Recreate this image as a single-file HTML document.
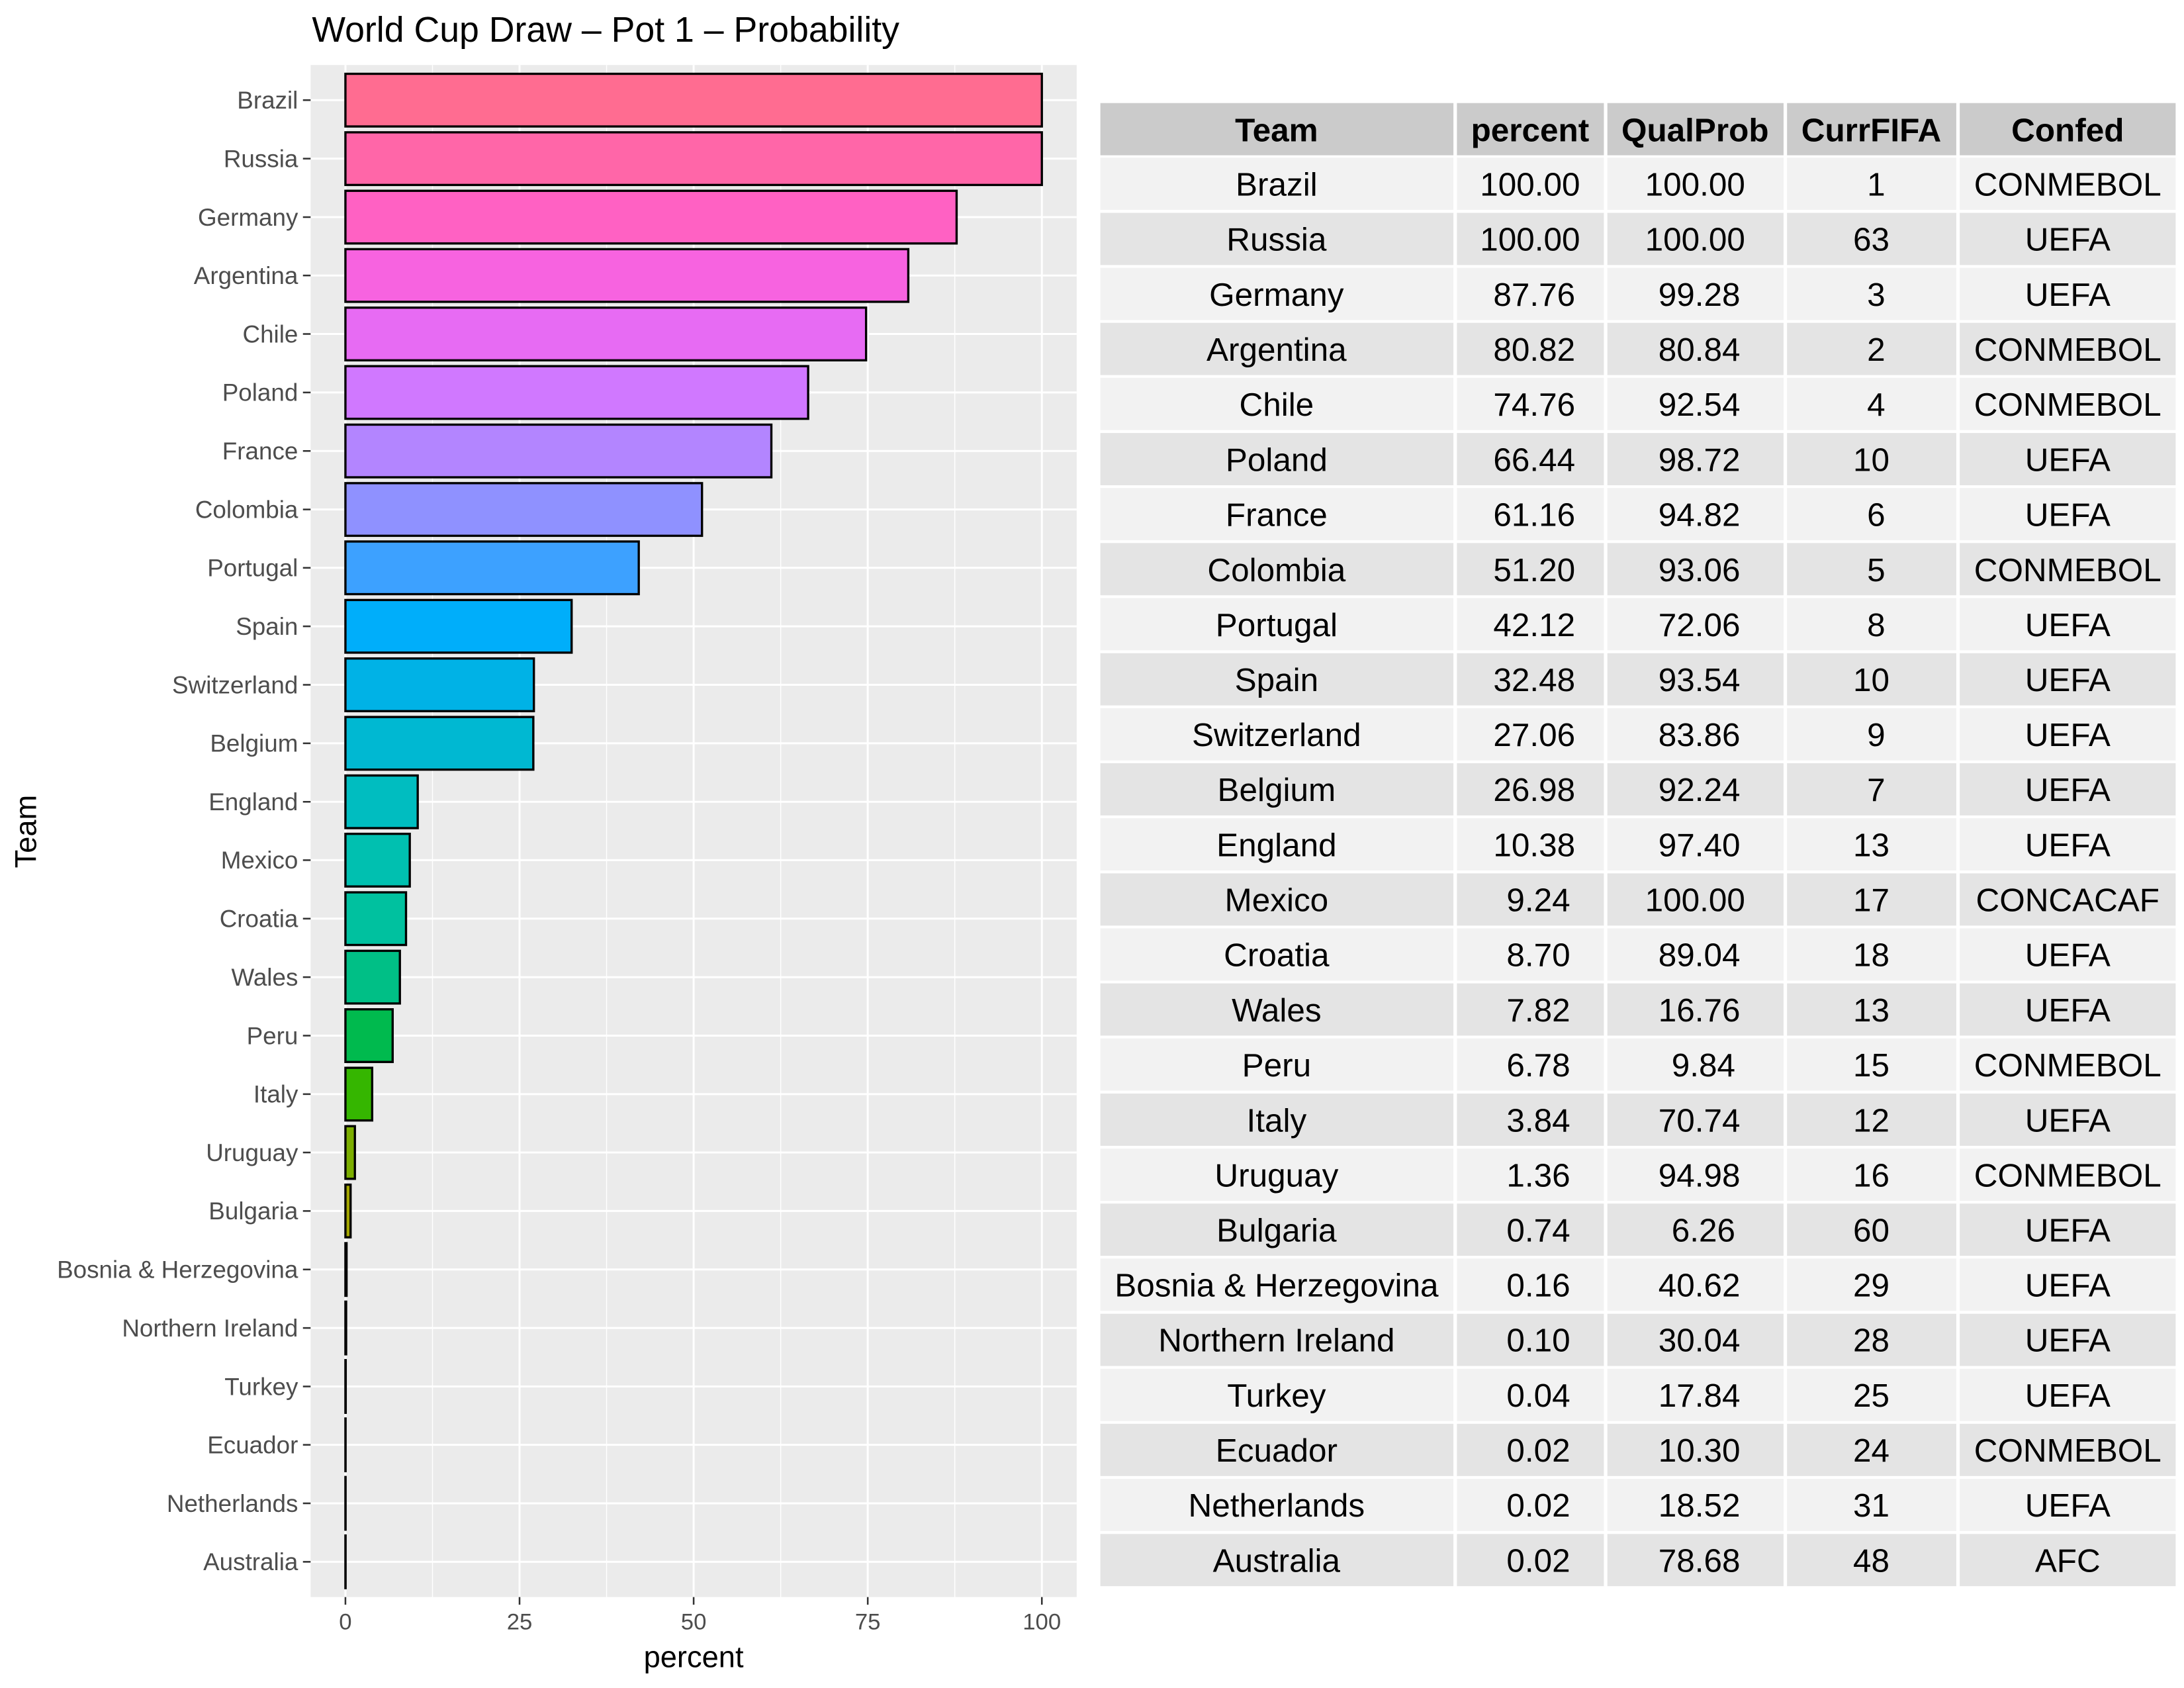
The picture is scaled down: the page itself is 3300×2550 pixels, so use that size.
<!DOCTYPE html>
<html><head><meta charset="utf-8"><style>html,body{margin:0;padding:0;background:#fff}svg{display:block}</style></head>
<body>
<svg xmlns="http://www.w3.org/2000/svg" width="3300" height="2550" viewBox="0 0 1568 1212" preserveAspectRatio="none" font-family="Liberation Sans, Arial, sans-serif">
<rect width="1568" height="1212" fill="#fff"/>
<text x="224" y="30" font-size="25.5" fill="#000">World Cup Draw – Pot 1 – Probability</text>
<!-- panel -->
<rect x="223" y="46.7" width="550" height="1100" fill="#EBEBEB"/>
<g stroke="#fff" stroke-width="0.7">
<line x1="310.5" y1="46.7" x2="310.5" y2="1146.7"/><line x1="435.5" y1="46.7" x2="435.5" y2="1146.7"/><line x1="560.5" y1="46.7" x2="560.5" y2="1146.7"/><line x1="685.5" y1="46.7" x2="685.5" y2="1146.7"/>
</g>
<g stroke="#fff" stroke-width="1.4">
<line x1="248" y1="46.7" x2="248" y2="1146.7"/><line x1="373" y1="46.7" x2="373" y2="1146.7"/><line x1="498" y1="46.7" x2="498" y2="1146.7"/><line x1="623" y1="46.7" x2="623" y2="1146.7"/><line x1="748" y1="46.7" x2="748" y2="1146.7"/>
<line x1="223" y1="71.9" x2="773" y2="71.9"/><line x1="223" y1="113.9" x2="773" y2="113.9"/><line x1="223" y1="155.9" x2="773" y2="155.9"/><line x1="223" y1="197.8" x2="773" y2="197.8"/><line x1="223" y1="239.8" x2="773" y2="239.8"/><line x1="223" y1="281.8" x2="773" y2="281.8"/><line x1="223" y1="323.8" x2="773" y2="323.8"/><line x1="223" y1="365.8" x2="773" y2="365.8"/><line x1="223" y1="407.7" x2="773" y2="407.7"/><line x1="223" y1="449.7" x2="773" y2="449.7"/><line x1="223" y1="491.7" x2="773" y2="491.7"/><line x1="223" y1="533.7" x2="773" y2="533.7"/><line x1="223" y1="575.7" x2="773" y2="575.7"/><line x1="223" y1="617.6" x2="773" y2="617.6"/><line x1="223" y1="659.6" x2="773" y2="659.6"/><line x1="223" y1="701.6" x2="773" y2="701.6"/><line x1="223" y1="743.6" x2="773" y2="743.6"/><line x1="223" y1="785.6" x2="773" y2="785.6"/><line x1="223" y1="827.5" x2="773" y2="827.5"/><line x1="223" y1="869.5" x2="773" y2="869.5"/><line x1="223" y1="911.5" x2="773" y2="911.5"/><line x1="223" y1="953.5" x2="773" y2="953.5"/><line x1="223" y1="995.5" x2="773" y2="995.5"/><line x1="223" y1="1037.4" x2="773" y2="1037.4"/><line x1="223" y1="1079.4" x2="773" y2="1079.4"/><line x1="223" y1="1121.4" x2="773" y2="1121.4"/>
</g>
<!-- bars -->
<g stroke="#000" stroke-width="1.6">
<rect x="248" y="53" width="500" height="37.8" fill="#FF6C91"/>
<rect x="248" y="95" width="500" height="37.8" fill="#FF66A8"/>
<rect x="248" y="137" width="438.8" height="37.8" fill="#FF61C3"/>
<rect x="248" y="178.9" width="404.1" height="37.8" fill="#F763E0"/>
<rect x="248" y="220.9" width="373.8" height="37.8" fill="#E76BF3"/>
<rect x="248" y="262.9" width="332.2" height="37.8" fill="#D078FF"/>
<rect x="248" y="304.9" width="305.8" height="37.8" fill="#B385FF"/>
<rect x="248" y="346.9" width="256" height="37.8" fill="#8F91FF"/>
<rect x="248" y="388.8" width="210.6" height="37.8" fill="#3DA1FF"/>
<rect x="248" y="430.8" width="162.4" height="37.8" fill="#00AEFA"/>
<rect x="248" y="472.8" width="135.3" height="37.8" fill="#00B2E6"/>
<rect x="248" y="514.8" width="134.9" height="37.8" fill="#00B8D2"/>
<rect x="248" y="556.8" width="51.9" height="37.8" fill="#00BDC0"/>
<rect x="248" y="598.7" width="46.2" height="37.8" fill="#00C0B0"/>
<rect x="248" y="640.7" width="43.5" height="37.8" fill="#00C19F"/>
<rect x="248" y="682.7" width="39.1" height="37.8" fill="#00BF86"/>
<rect x="248" y="724.7" width="33.9" height="37.8" fill="#00BA4E"/>
<rect x="248" y="766.7" width="19.2" height="37.8" fill="#35B600"/>
<rect x="248" y="808.6" width="6.8" height="37.8" fill="#7CAE00"/>
<rect x="248" y="850.6" width="3.7" height="37.8" fill="#A3A500"/>
<rect x="248" y="892.6" width="0.8" height="37.8" fill="#BB9D00"/>
<rect x="248" y="934.6" width="0.5" height="37.8" fill="#CD9600"/>
<rect x="248" y="976.6" width="0.2" height="37.8" fill="#DB8E00"/>
<rect x="248" y="1018.5" width="0.1" height="37.8" fill="#E68613"/>
<rect x="248" y="1060.5" width="0.1" height="37.8" fill="#F07E4D"/>
<rect x="248" y="1102.5" width="0.1" height="37.8" fill="#F8766D"/>
</g>
<!-- ticks -->
<g stroke="#333" stroke-width="1.2">
<line x1="217.5" y1="71.9" x2="223" y2="71.9"/><line x1="217.5" y1="113.9" x2="223" y2="113.9"/><line x1="217.5" y1="155.9" x2="223" y2="155.9"/><line x1="217.5" y1="197.8" x2="223" y2="197.8"/><line x1="217.5" y1="239.8" x2="223" y2="239.8"/><line x1="217.5" y1="281.8" x2="223" y2="281.8"/><line x1="217.5" y1="323.8" x2="223" y2="323.8"/><line x1="217.5" y1="365.8" x2="223" y2="365.8"/><line x1="217.5" y1="407.7" x2="223" y2="407.7"/><line x1="217.5" y1="449.7" x2="223" y2="449.7"/><line x1="217.5" y1="491.7" x2="223" y2="491.7"/><line x1="217.5" y1="533.7" x2="223" y2="533.7"/><line x1="217.5" y1="575.7" x2="223" y2="575.7"/><line x1="217.5" y1="617.6" x2="223" y2="617.6"/><line x1="217.5" y1="659.6" x2="223" y2="659.6"/><line x1="217.5" y1="701.6" x2="223" y2="701.6"/><line x1="217.5" y1="743.6" x2="223" y2="743.6"/><line x1="217.5" y1="785.6" x2="223" y2="785.6"/><line x1="217.5" y1="827.5" x2="223" y2="827.5"/><line x1="217.5" y1="869.5" x2="223" y2="869.5"/><line x1="217.5" y1="911.5" x2="223" y2="911.5"/><line x1="217.5" y1="953.5" x2="223" y2="953.5"/><line x1="217.5" y1="995.5" x2="223" y2="995.5"/><line x1="217.5" y1="1037.4" x2="223" y2="1037.4"/><line x1="217.5" y1="1079.4" x2="223" y2="1079.4"/><line x1="217.5" y1="1121.4" x2="223" y2="1121.4"/>
<line x1="248" y1="1146.7" x2="248" y2="1152.2"/><line x1="373" y1="1146.7" x2="373" y2="1152.2"/><line x1="498" y1="1146.7" x2="498" y2="1152.2"/><line x1="623" y1="1146.7" x2="623" y2="1152.2"/><line x1="748" y1="1146.7" x2="748" y2="1152.2"/>
</g>
<g font-size="17.5" fill="#4D4D4D" text-anchor="end">
<text x="214" y="78">Brazil</text><text x="214" y="120">Russia</text><text x="214" y="162">Germany</text><text x="214" y="203.9">Argentina</text><text x="214" y="245.9">Chile</text><text x="214" y="287.9">Poland</text><text x="214" y="329.9">France</text><text x="214" y="371.9">Colombia</text><text x="214" y="413.8">Portugal</text><text x="214" y="455.8">Spain</text><text x="214" y="497.8">Switzerland</text><text x="214" y="539.8">Belgium</text><text x="214" y="581.8">England</text><text x="214" y="623.7">Mexico</text><text x="214" y="665.7">Croatia</text><text x="214" y="707.7">Wales</text><text x="214" y="749.7">Peru</text><text x="214" y="791.7">Italy</text><text x="214" y="833.6">Uruguay</text><text x="214" y="875.6">Bulgaria</text><text x="214" y="917.6">Bosnia &amp; Herzegovina</text><text x="214" y="959.6">Northern Ireland</text><text x="214" y="1001.6">Turkey</text><text x="214" y="1043.5">Ecuador</text><text x="214" y="1085.5">Netherlands</text><text x="214" y="1127.5">Australia</text>
</g>
<g font-size="16.5" fill="#4D4D4D" text-anchor="middle">
<text x="248" y="1170">0</text><text x="373" y="1170">25</text><text x="498" y="1170">50</text><text x="623" y="1170">75</text><text x="748" y="1170">100</text>
</g>
<text x="498" y="1197" font-size="21.5" text-anchor="middle" fill="#000">percent</text>
<text transform="translate(26,597) rotate(-90)" font-size="21.5" text-anchor="middle" fill="#000">Team</text>
<!-- table -->
<rect x="790" y="74" width="772" height="37.5" fill="#CBCBCB"/>
<g fill="#F2F2F2">
<rect x="790" y="113.2" width="772" height="37.5"/><rect x="790" y="192.3" width="772" height="37.5"/><rect x="790" y="271.3" width="772" height="37.5"/><rect x="790" y="350.4" width="772" height="37.5"/><rect x="790" y="429.4" width="772" height="37.5"/><rect x="790" y="508.5" width="772" height="37.5"/><rect x="790" y="587.5" width="772" height="37.5"/><rect x="790" y="666.6" width="772" height="37.5"/><rect x="790" y="745.6" width="772" height="37.5"/><rect x="790" y="824.7" width="772" height="37.5"/><rect x="790" y="903.7" width="772" height="37.5"/><rect x="790" y="982.8" width="772" height="37.5"/><rect x="790" y="1061.8" width="772" height="37.5"/>
</g>
<g fill="#E4E4E4">
<rect x="790" y="152.8" width="772" height="37.5"/><rect x="790" y="231.8" width="772" height="37.5"/><rect x="790" y="310.9" width="772" height="37.5"/><rect x="790" y="389.9" width="772" height="37.5"/><rect x="790" y="469" width="772" height="37.5"/><rect x="790" y="548" width="772" height="37.5"/><rect x="790" y="627.1" width="772" height="37.5"/><rect x="790" y="706.1" width="772" height="37.5"/><rect x="790" y="785.2" width="772" height="37.5"/><rect x="790" y="864.2" width="772" height="37.5"/><rect x="790" y="943.3" width="772" height="37.5"/><rect x="790" y="1022.3" width="772" height="37.5"/><rect x="790" y="1101.4" width="772" height="37.5"/>
</g>
<g fill="#fff">
<rect x="1043.5" y="70" width="2.5" height="1075"/><rect x="1151.5" y="70" width="2.5" height="1075"/><rect x="1280.5" y="70" width="2.5" height="1075"/><rect x="1404.5" y="70" width="2.5" height="1075"/>
</g>
<g font-size="23.5" font-weight="bold" text-anchor="middle" fill="#000">
<text x="916.5" y="101.5">Team</text><text x="1098.5" y="101.5">percent</text><text x="1217" y="101.5">QualProb</text><text x="1343.5" y="101.5">CurrFIFA</text><text x="1484.5" y="101.5">Confed</text>
</g>
<g font-size="23.5" text-anchor="middle" fill="#000">
<g transform="translate(0,140.5)"><text x="916.5">Brazil</text><text x="1098.5">100.00</text><text x="1217">100.00</text><text x="1347">1</text><text x="1484.5">CONMEBOL</text></g>
<g transform="translate(0,180)"><text x="916.5">Russia</text><text x="1098.5">100.00</text><text x="1217">100.00</text><text x="1343.5">63</text><text x="1484.5">UEFA</text></g>
<g transform="translate(0,219.5)"><text x="916.5">Germany</text><text x="1101.5">87.76</text><text x="1220">99.28</text><text x="1347">3</text><text x="1484.5">UEFA</text></g>
<g transform="translate(0,259.1)"><text x="916.5">Argentina</text><text x="1101.5">80.82</text><text x="1220">80.84</text><text x="1347">2</text><text x="1484.5">CONMEBOL</text></g>
<g transform="translate(0,298.6)"><text x="916.5">Chile</text><text x="1101.5">74.76</text><text x="1220">92.54</text><text x="1347">4</text><text x="1484.5">CONMEBOL</text></g>
<g transform="translate(0,338.1)"><text x="916.5">Poland</text><text x="1101.5">66.44</text><text x="1220">98.72</text><text x="1343.5">10</text><text x="1484.5">UEFA</text></g>
<g transform="translate(0,377.6)"><text x="916.5">France</text><text x="1101.5">61.16</text><text x="1220">94.82</text><text x="1347">6</text><text x="1484.5">UEFA</text></g>
<g transform="translate(0,417.2)"><text x="916.5">Colombia</text><text x="1101.5">51.20</text><text x="1220">93.06</text><text x="1347">5</text><text x="1484.5">CONMEBOL</text></g>
<g transform="translate(0,456.7)"><text x="916.5">Portugal</text><text x="1101.5">42.12</text><text x="1220">72.06</text><text x="1347">8</text><text x="1484.5">UEFA</text></g>
<g transform="translate(0,496.2)"><text x="916.5">Spain</text><text x="1101.5">32.48</text><text x="1220">93.54</text><text x="1343.5">10</text><text x="1484.5">UEFA</text></g>
<g transform="translate(0,535.7)"><text x="916.5">Switzerland</text><text x="1101.5">27.06</text><text x="1220">83.86</text><text x="1347">9</text><text x="1484.5">UEFA</text></g>
<g transform="translate(0,575.2)"><text x="916.5">Belgium</text><text x="1101.5">26.98</text><text x="1220">92.24</text><text x="1347">7</text><text x="1484.5">UEFA</text></g>
<g transform="translate(0,614.8)"><text x="916.5">England</text><text x="1101.5">10.38</text><text x="1220">97.40</text><text x="1343.5">13</text><text x="1484.5">UEFA</text></g>
<g transform="translate(0,654.3)"><text x="916.5">Mexico</text><text x="1104.5">9.24</text><text x="1217">100.00</text><text x="1343.5">17</text><text x="1484.5">CONCACAF</text></g>
<g transform="translate(0,693.8)"><text x="916.5">Croatia</text><text x="1104.5">8.70</text><text x="1220">89.04</text><text x="1343.5">18</text><text x="1484.5">UEFA</text></g>
<g transform="translate(0,733.3)"><text x="916.5">Wales</text><text x="1104.5">7.82</text><text x="1220">16.76</text><text x="1343.5">13</text><text x="1484.5">UEFA</text></g>
<g transform="translate(0,772.8)"><text x="916.5">Peru</text><text x="1104.5">6.78</text><text x="1223">9.84</text><text x="1343.5">15</text><text x="1484.5">CONMEBOL</text></g>
<g transform="translate(0,812.4)"><text x="916.5">Italy</text><text x="1104.5">3.84</text><text x="1220">70.74</text><text x="1343.5">12</text><text x="1484.5">UEFA</text></g>
<g transform="translate(0,851.9)"><text x="916.5">Uruguay</text><text x="1104.5">1.36</text><text x="1220">94.98</text><text x="1343.5">16</text><text x="1484.5">CONMEBOL</text></g>
<g transform="translate(0,891.4)"><text x="916.5">Bulgaria</text><text x="1104.5">0.74</text><text x="1223">6.26</text><text x="1343.5">60</text><text x="1484.5">UEFA</text></g>
<g transform="translate(0,930.9)"><text x="916.5">Bosnia &amp; Herzegovina</text><text x="1104.5">0.16</text><text x="1220">40.62</text><text x="1343.5">29</text><text x="1484.5">UEFA</text></g>
<g transform="translate(0,970.4)"><text x="916.5">Northern Ireland</text><text x="1104.5">0.10</text><text x="1220">30.04</text><text x="1343.5">28</text><text x="1484.5">UEFA</text></g>
<g transform="translate(0,1010)"><text x="916.5">Turkey</text><text x="1104.5">0.04</text><text x="1220">17.84</text><text x="1343.5">25</text><text x="1484.5">UEFA</text></g>
<g transform="translate(0,1049.5)"><text x="916.5">Ecuador</text><text x="1104.5">0.02</text><text x="1220">10.30</text><text x="1343.5">24</text><text x="1484.5">CONMEBOL</text></g>
<g transform="translate(0,1089)"><text x="916.5">Netherlands</text><text x="1104.5">0.02</text><text x="1220">18.52</text><text x="1343.5">31</text><text x="1484.5">UEFA</text></g>
<g transform="translate(0,1128.5)"><text x="916.5">Australia</text><text x="1104.5">0.02</text><text x="1220">78.68</text><text x="1343.5">48</text><text x="1484.5">AFC</text></g>
</g>
</svg>
</body></html>
